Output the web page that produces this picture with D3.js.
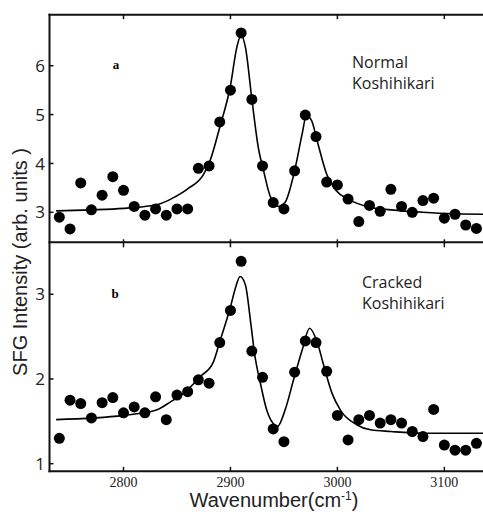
<!DOCTYPE html>
<html>
<head>
<meta charset="utf-8">
<script src="https://cdn.jsdelivr.net/npm/d3@7"></script>
<style>
  body { margin: 0; background: #fff; }
  svg { display: block; }
</style>
</head>
<body>
<div id="vis"></div>
<script>
// measured points, every 10 cm-1
let wavenumbers = [2740, 2750, 2760, 2770, 2780, 2790, 2800, 2810, 2820, 2830,
  2840, 2850, 2860, 2870, 2880, 2890, 2900, 2910, 2920, 2930,
  2940, 2950, 2960, 2970, 2980, 2990, 3000, 3010, 3020, 3030,
  3040, 3050, 3060, 3070, 3080, 3090, 3100, 3110, 3120, 3130];

let normalPoints = [2.90, 2.66, 3.60, 3.05, 3.35, 3.73, 3.45, 3.12, 2.94, 3.07,
  2.94, 3.07, 3.07, 3.90, 3.95, 4.85, 5.50, 6.67, 5.31, 3.95,
  3.20, 3.07, 3.85, 4.99, 4.55, 3.62, 3.56, 3.27, 2.81, 3.14,
  3.02, 3.47, 3.12, 3.00, 3.24, 3.29, 2.88, 2.96, 2.74, 2.67];

let crackedPoints = [1.30, 1.75, 1.71, 1.54, 1.72, 1.78, 1.60, 1.67, 1.60, 1.79,
  1.52, 1.81, 1.85, 1.99, 1.95, 2.43, 2.81, 3.39, 2.33, 2.02,
  1.41, 1.26, 2.08, 2.45, 2.43, 2.09, 1.57, 1.28, 1.52, 1.57,
  1.48, 1.52, 1.48, 1.38, 1.32, 1.64, 1.22, 1.16, 1.16, 1.24];

// fitted curves
let normalFitX = [2737, 2770, 2800, 2820, 2835, 2845, 2860, 2875, 2881, 2890,
  2900, 2906, 2910, 2914, 2920, 2926, 2931, 2937, 2945, 2951,
  2960, 2967, 2971, 2976, 2981, 2990, 2999, 3010, 3031, 3050,
  3080, 3110, 3142];
let normalFitY = [3.03, 3.05, 3.08, 3.12, 3.18, 3.28, 3.48, 3.78, 4.06, 4.74,
  5.59, 6.38, 6.63, 6.38, 5.32, 4.33, 3.85, 3.34, 3.12, 3.20,
  3.85, 4.60, 4.98, 4.87, 4.47, 3.78, 3.44, 3.27, 3.10, 3.05,
  3.00, 2.97, 2.96];

let crackedFitX = [2737, 2800, 2830, 2844, 2856, 2872, 2884, 2890, 2900, 2905,
  2909, 2914, 2919, 2923, 2928, 2934, 2941, 2944, 2951, 2959,
  2967, 2974, 2981, 2987, 2995, 3003, 3018, 3031, 3050, 3080,
  3142];
let crackedFitY = [1.52, 1.57, 1.63, 1.73, 1.83, 2.03, 2.20, 2.44, 2.85, 3.09,
  3.21, 3.11, 2.66, 2.26, 1.95, 1.63, 1.46, 1.44, 1.63, 1.99,
  2.34, 2.60, 2.44, 2.17, 1.83, 1.63, 1.46, 1.40, 1.38, 1.36,
  1.36];

let xTicks = [2800, 2900, 3000, 3100];
let normalTicks = [3, 4, 5, 6];
let crackedTicks = [1, 2, 3];

let W = 483, H = 516;
let pLeft = 49.5, pRight = 490, pTop = 14.7, pMid = 242.3, pBottom = 471.3;

let svg = d3.select('#vis')
  .append('svg')
  .attr('width', W)
  .attr('height', H);

let x = d3.scaleLinear()
  .domain([2730.8, 3142.7])
  .range([pLeft, pRight]);

let yTop = d3.scaleLinear()
  .domain([2.386, 7.044])
  .range([pMid, pTop]);

let yBot = d3.scaleLinear()
  .domain([0.910, 3.614])
  .range([pBottom, pMid]);

// clip so nothing spills past the frame
svg.append('clipPath').attr('id', 'clipTop')
  .append('rect').attr('x', pLeft).attr('y', pTop).attr('width', pRight - pLeft).attr('height', pMid - pTop);
svg.append('clipPath').attr('id', 'clipBot')
  .append('rect').attr('x', pLeft).attr('y', pMid).attr('width', pRight - pLeft).attr('height', pBottom - pMid);

function drawPanel(yScale, points, fitX, fitY, clipId) {
  let g = svg.append('g');

  let fit = fitX.map(function(d, i) { return [d, fitY[i]]; });
  let line = d3.line()
    .x(function(d) { return x(d[0]); })
    .y(function(d) { return yScale(d[1]); })
    .curve(d3.curveMonotoneX);

  g.append('path')
    .datum(fit)
    .attr('d', line)
    .attr('fill', 'none')
    .attr('stroke', '#000')
    .attr('stroke-width', 1.6)
    .attr('clip-path', 'url(#' + clipId + ')');

  g.selectAll('circle')
    .data(points)
    .enter()
    .append('circle')
      .attr('cx', function(d, i) { return x(wavenumbers[i]); })
      .attr('cy', function(d) { return yScale(d); })
      .attr('r', 5.5)
      .attr('fill', '#000');
}

drawPanel(yTop, normalPoints, normalFitX, normalFitY, 'clipTop');
drawPanel(yBot, crackedPoints, crackedFitX, crackedFitY, 'clipBot');

// frame
let frame = svg.append('g').attr('stroke', '#111').attr('stroke-width', 2).attr('fill', 'none');
frame.append('line').attr('x1', pLeft).attr('x2', pLeft).attr('y1', pTop - 1).attr('y2', pBottom + 1);
frame.append('line').attr('x1', pLeft - 1).attr('x2', pRight).attr('y1', pTop).attr('y2', pTop);
frame.append('line').attr('x1', pLeft - 1).attr('x2', pRight).attr('y1', pMid).attr('y2', pMid);
frame.append('line').attr('x1', pLeft - 1).attr('x2', pRight).attr('y1', pBottom).attr('y2', pBottom);

// x ticks
let ticks = svg.append('g').attr('stroke', '#111').attr('stroke-width', 1.5);
xTicks.forEach(function(t) {
  ticks.append('line').attr('x1', x(t)).attr('x2', x(t)).attr('y1', pTop).attr('y2', pTop + 4.5);
  ticks.append('line').attr('x1', x(t)).attr('x2', x(t)).attr('y1', pMid - 3).attr('y2', pMid + 5);
  ticks.append('line').attr('x1', x(t)).attr('x2', x(t)).attr('y1', pBottom - 4.5).attr('y2', pBottom);
});

// y ticks
normalTicks.forEach(function(t) {
  ticks.append('line').attr('x1', pLeft).attr('x2', pLeft + 4).attr('y1', yTop(t)).attr('y2', yTop(t));
});
crackedTicks.forEach(function(t) {
  ticks.append('line').attr('x1', pLeft).attr('x2', pLeft + 4).attr('y1', yBot(t)).attr('y2', yBot(t));
});

// tick labels
let sans = '"Open Sans", sans-serif';
svg.append('g').selectAll('text')
  .data(normalTicks)
  .enter().append('text')
    .attr('x', 45)
    .attr('y', function(d) { return yTop(d); })
    .attr('dy', '0.36em')
    .attr('text-anchor', 'end')
    .style('font-family', sans)
    .style('font-size', '17px')
    .attr('fill', '#222')
    .text(function(d) { return d; });

svg.append('g').selectAll('text')
  .data(crackedTicks)
  .enter().append('text')
    .attr('x', 45)
    .attr('y', function(d) { return yBot(d); })
    .attr('dy', '0.36em')
    .attr('text-anchor', 'end')
    .style('font-family', sans)
    .style('font-size', '17px')
    .attr('fill', '#222')
    .text(function(d) { return d; });

svg.append('g').selectAll('text')
  .data(xTicks)
  .enter().append('text')
    .attr('x', function(d) { return x(d); })
    .attr('y', 487)
    .attr('text-anchor', 'middle')
    .style('font-family', '"Liberation Serif", serif')
    .style('font-size', '14px')
    .attr('fill', '#222')
    .text(function(d) { return d; });

// panel letters
svg.append('text').attr('x', 116).attr('y', 69).attr('text-anchor', 'middle')
  .style('font-family', '"Liberation Serif", serif').style('font-weight', 'bold').style('font-size', '13px')
  .text('a');
svg.append('text').attr('x', 115).attr('y', 297.5).attr('text-anchor', 'middle')
  .style('font-family', '"Liberation Serif", serif').style('font-weight', 'bold').style('font-size', '13px')
  .text('b');

// sample names
let names = [
  { x: 352, y: 67.5, t: 'Normal' },
  { x: 352, y: 89, t: 'Koshihikari' },
  { x: 362, y: 287.5, t: 'Cracked' },
  { x: 362, y: 309, t: 'Koshihikari' }
];
svg.append('g').selectAll('text')
  .data(names)
  .enter().append('text')
    .attr('x', function(d) { return d.x; })
    .attr('y', function(d) { return d.y; })
    .style('font-family', sans)
    .style('font-size', '16px')
    .attr('fill', '#222')
    .text(function(d) { return d.t; });

// axis titles
svg.append('text')
  .attr('transform', 'translate(27,' + 262 + ') rotate(-90)')
  .attr('text-anchor', 'middle')
  .style('font-family', '"Liberation Sans", Arial, sans-serif')
  .style('font-size', '20px')
  .attr('fill', '#222')
  .text('SFG Intensity (arb. units )');

let xt = svg.append('text')
  .attr('x', 274)
  .attr('y', 507)
  .attr('text-anchor', 'middle')
  .style('font-family', '"Liberation Sans", Arial, sans-serif')
  .style('font-size', '20px')
  .attr('fill', '#222');
xt.append('tspan').text('Wavenumber(cm');
xt.append('tspan').attr('dy', -7).style('font-size', '12px').text('-1');
xt.append('tspan').attr('dy', 7).text(')');
</script>
</body>
</html>
